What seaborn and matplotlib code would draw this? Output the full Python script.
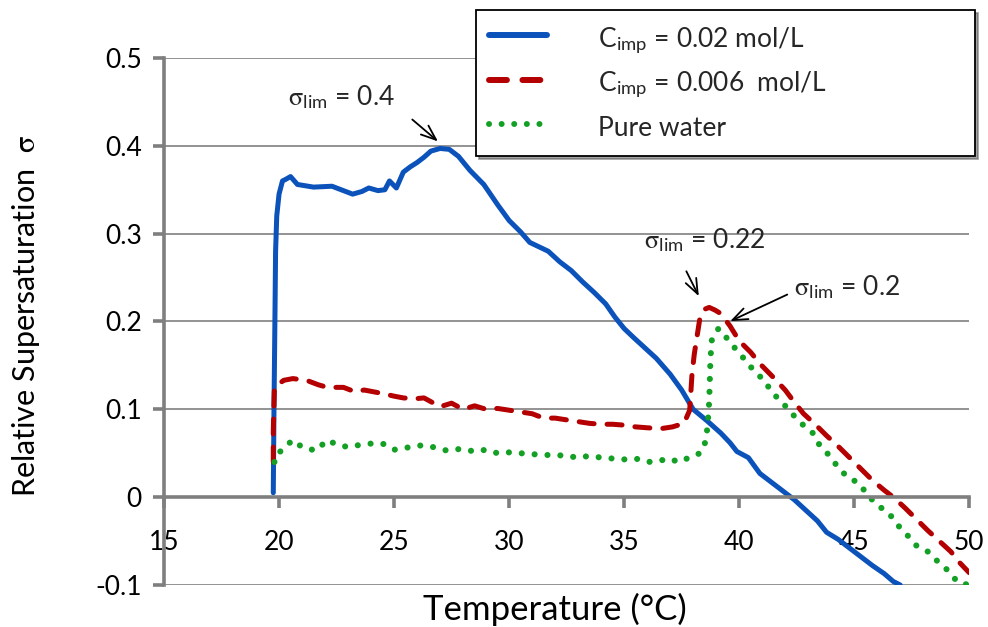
import matplotlib
matplotlib.use("Agg")
import matplotlib.pyplot as plt
import seaborn as sns
import pandas as pd

# C_imp = 0.02 mol/L
bx = [19.75, 19.78, 19.82, 19.85, 19.9, 20.0, 20.15, 20.3, 20.5, 20.8,
      21.5, 22.3, 22.7, 23.2, 23.6, 23.9, 24.3, 24.6, 24.8, 25.1,
      25.4, 25.7, 26.0, 26.3, 26.6, 27.0, 27.4, 27.8, 28.3, 28.9,
      29.5, 30.0, 30.5, 30.9, 31.3, 31.7, 32.2, 32.7, 33.2, 33.7,
      34.2, 34.6, 35.0, 35.4, 35.9, 36.4, 37.0, 37.5, 38.0, 38.6,
      39.2, 39.6, 39.9, 40.4, 40.9, 41.4, 41.9, 42.4, 42.9, 43.4,
      43.8, 44.3, 44.8, 45.3, 45.8, 46.3, 46.7, 47.0]
by = [0.005, 0.10, 0.20, 0.28, 0.32, 0.345, 0.36, 0.362, 0.365, 0.356,
      0.353, 0.354, 0.350, 0.345, 0.348, 0.352, 0.349, 0.350, 0.360, 0.352,
      0.370, 0.376, 0.381, 0.387, 0.394, 0.397, 0.396, 0.388, 0.372, 0.356,
      0.333, 0.315, 0.302, 0.290, 0.285, 0.280, 0.268, 0.258, 0.245, 0.233,
      0.220, 0.205, 0.192, 0.182, 0.170, 0.158, 0.140, 0.122, 0.100, 0.087,
      0.073, 0.062, 0.052, 0.045, 0.027, 0.017, 0.007, -0.003, -0.015, -0.027,
      -0.040, -0.048, -0.058, -0.068, -0.078, -0.087, -0.096, -0.100]

# C_imp = 0.006 mol/L
rx = [19.75, 19.75, 19.78, 19.8, 20.2, 20.6, 21.2, 21.7, 22.1, 22.8,
      23.3, 23.7, 24.5, 25.0, 25.4, 25.9, 26.3, 27.0, 27.5, 28.0,
      28.5, 29.0, 29.5, 30.0, 30.5, 31.0, 31.5, 32.0, 32.5, 33.0,
      33.5, 34.0, 34.5, 35.0, 35.5, 36.0, 36.6, 37.1, 37.6, 37.85,
      37.95, 38.05, 38.3, 38.5, 38.7, 38.95, 39.2, 39.6, 40.0, 40.5,
      40.9, 41.5, 42.0, 42.4, 42.8, 43.3, 43.8, 44.3, 44.8, 45.3,
      45.8, 46.3, 46.7, 47.2, 47.7, 48.2, 48.7, 49.2, 49.6, 50.0]
ry = [0.040, 0.075, 0.107, 0.125, 0.133, 0.135, 0.133, 0.128, 0.125, 0.125,
      0.120, 0.122, 0.118, 0.115, 0.113, 0.112, 0.113, 0.103, 0.107, 0.100,
      0.104, 0.100, 0.101, 0.099, 0.097, 0.095, 0.090, 0.090, 0.088, 0.086,
      0.084, 0.083, 0.083, 0.082, 0.080, 0.079, 0.078, 0.080, 0.084, 0.099,
      0.140, 0.163, 0.205, 0.214, 0.216, 0.213, 0.209, 0.195, 0.178, 0.165,
      0.152, 0.136, 0.122, 0.108, 0.095, 0.083, 0.070, 0.058, 0.045, 0.032,
      0.019, 0.008, 0.000, -0.012, -0.025, -0.038, -0.050, -0.062, -0.075, -0.086]

# pure water
gx = [19.8, 19.8, 20.2, 20.6, 21.0, 21.6, 22.1, 22.5, 23.0, 23.4,
      24.0, 24.5, 25.0, 25.7, 26.2, 26.7, 27.3, 27.9, 28.5, 29.0,
      29.5, 30.0, 30.5, 31.0, 31.5, 32.0, 32.5, 33.0, 33.5, 34.0,
      34.5, 35.0, 35.5, 36.0, 36.5, 36.9, 37.4, 37.9, 38.3, 38.5,
      38.6, 38.65, 38.7, 38.72, 38.75, 38.8, 39.1, 39.5, 39.9, 40.3,
      40.7, 41.1, 41.4, 41.9, 42.3, 42.7, 43.2, 43.5, 43.9, 44.3,
      44.7, 45.2, 45.6, 46.0, 46.5, 46.9, 47.3, 47.7, 48.2, 48.7,
      49.1, 49.5, 50.0]
gy = [0.040, 0.045, 0.056, 0.065, 0.057, 0.053, 0.065, 0.060, 0.057, 0.059,
      0.061, 0.061, 0.054, 0.057, 0.059, 0.057, 0.053, 0.055, 0.052, 0.054,
      0.050, 0.051, 0.050, 0.049, 0.048, 0.048, 0.047, 0.045, 0.047, 0.045,
      0.044, 0.043, 0.044, 0.040, 0.041, 0.044, 0.040, 0.046, 0.050, 0.060,
      0.075, 0.090, 0.110, 0.130, 0.155, 0.178, 0.192, 0.180, 0.167, 0.155,
      0.142, 0.133, 0.120, 0.107, 0.095, 0.084, 0.073, 0.059, 0.048, 0.034,
      0.023, 0.016, 0.002, -0.009, -0.018, -0.032, -0.043, -0.055, -0.062, -0.075,
      -0.084, -0.097, -0.100]

series_labels = [r"C$_{\mathregular{imp}}$ = 0.02 mol/L",
                 r"C$_{\mathregular{imp}}$ = 0.006  mol/L",
                 "Pure water"]
x_ticks = [15, 20, 25, 30, 35, 40, 45, 50]
y_ticks = [-0.1, 0, 0.1, 0.2, 0.3, 0.4, 0.5]
y_tick_labels = ["-0.1", "0", "0.1", "0.2", "0.3", "0.4", "0.5"]

sns.set_theme(style="white")
plt.rcParams["font.family"] = ["Lato", "DejaVu Sans"]
plt.rcParams["mathtext.fontset"] = "stix"

fig = plt.figure(figsize=(9.88, 6.27), dpi=100)
ax = fig.add_axes([0.166, 0.067, 0.815, 0.8405])

blue = pd.DataFrame({"T": bx, "s": by})
red = pd.DataFrame({"T": rx, "s": ry})
green = pd.DataFrame({"T": gx, "s": gy})

sns.lineplot(data=blue, x="T", y="s", sort=False, estimator=None, ax=ax,
             color="#0B52BA", linewidth=3.6, solid_capstyle="round",
             label=series_labels[0])
sns.lineplot(data=red, x="T", y="s", sort=False, estimator=None, ax=ax,
             color="#B40000", linewidth=3.6, linestyle=(0, (3, 2.6)),
             dash_capstyle="round", label=series_labels[1])
sns.lineplot(data=green, x="T", y="s", sort=False, estimator=None, ax=ax,
             color="#13A024", linewidth=4.4, linestyle=(0, (0.01, 2.1)),
             dash_capstyle="round", label=series_labels[2])

ax.set_xlim(15, 50)
ax.set_ylim(-0.1, 0.5)
ax.set_xticks(x_ticks)
ax.set_yticks(y_ticks)
ax.set_yticklabels(y_tick_labels)

ax.yaxis.grid(True, color="#8a8a8a", linewidth=1.3)
ax.xaxis.grid(False)
ax.set_axisbelow(True)

for side in ["top", "right"]:
    ax.spines[side].set_visible(False)
ax.spines["bottom"].set_position(("data", 0))
for side in ["left", "bottom"]:
    ax.spines[side].set_color("#7f7f7f")
    ax.spines[side].set_linewidth(2.6)

ax.tick_params(axis="both", direction="out", length=8, width=2.6,
               color="#7f7f7f", labelsize=19, labelcolor="black")
ax.tick_params(axis="x", pad=16, bottom=True)
ax.tick_params(axis="y", pad=8, left=True)

ax.set_ylabel(r"Relative Supersaturation  $\mathrm{\sigma}$", fontsize=22,
              color="black")
ax.yaxis.set_label_coords(-0.152, 0.51)
ax.set_xlabel("Temperature (°C)", fontsize=25, color="black")
ax.xaxis.set_label_coords(0.485, -0.015)

# annotations
sig = r"$\mathrm{\sigma}_{\mathregular{lim}}$"
ann = dict(arrowstyle="->,head_length=0.9,head_width=0.35", color="black", lw=1.3)
ax.text(22.7, 0.455, sig + " = 0.4", fontsize=19, ha="center", va="center")
ax.annotate("", xy=(27.0, 0.403), xytext=(25.7, 0.432), arrowprops=ann)
ax.text(38.5, 0.292, sig + " = 0.22", fontsize=19, ha="center", va="center")
ax.annotate("", xy=(38.3, 0.226), xytext=(37.65, 0.26), arrowprops=ann)
ax.text(44.7, 0.239, sig + " = 0.2", fontsize=19, ha="center", va="center")
ax.annotate("", xy=(39.5, 0.199), xytext=(42.2, 0.232), arrowprops=ann)

leg = ax.legend(loc="upper left", bbox_to_anchor=(0.482, 0.756, 0.505, 0.228),
                bbox_transform=fig.transFigure, mode="expand", fontsize=19,
                handlelength=2.2, handletextpad=1.9, labelspacing=0.45,
                handleheight=1.4, frameon=True, fancybox=False, shadow=True,
                borderpad=0.5, borderaxespad=0)
leg.get_frame().set_edgecolor("black")
leg.get_frame().set_linewidth(1.3)
leg.get_frame().set_facecolor("white")
leg.get_frame().set_alpha(1)
for line in leg.get_lines():
    line.set_linewidth(4.3)

fig.savefig("out.png", dpi=100)
